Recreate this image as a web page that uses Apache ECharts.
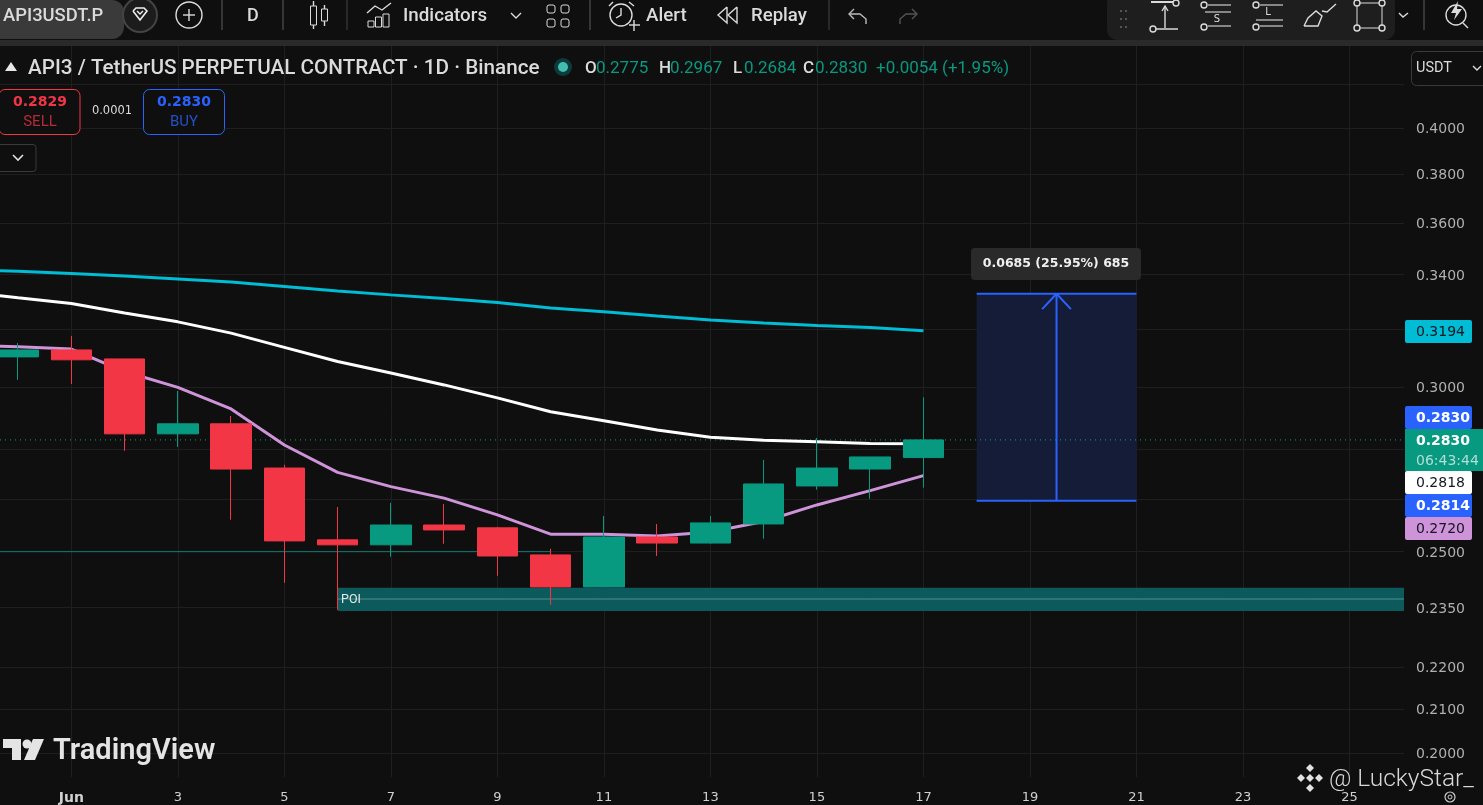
<!DOCTYPE html>
<html><head><meta charset="utf-8">
<style>html,body{margin:0;padding:0;background:#0f0f0f}#c{width:1483px;height:805px}</style>
<script src="https://cdn.jsdelivr.net/npm/echarts@6/dist/echarts.min.js"></script>
</head><body><div id="c"></div>
<script>
// ---------- data ----------
const days   = [0,1,2,3,4,5,6,7,8,9,10,11,12,13,14,15,16,17];
const opens  = [.3103,.3127,.3096,.2849,.2881,.2743,.2533,.2519,.2575,.2567,.2491,.2404,.2541,.2524,.2578,.2689,.2740,.2775];
const closes = [.3127,.3093,.2849,.2881,.2740,.2530,.2519,.2575,.2561,.2488,.2404,.2541,.2524,.2581,.2695,.2743,.2777,.2830];
const lows   = [.3025,.3011,.2796,.2808,.2590,.2415,.2344,.2486,.2522,.2434,.2357,.2404,.2488,.2522,.2536,.2678,.2651,.2684];
const highs  = [.3151,.3176,.3096,.2988,.2906,.2753,.2627,.2639,.2636,.2570,.2508,.2601,.2578,.2601,.2768,.2836,.2777,.2967];
const maDays = [-1,0,1,2,3,4,5,6,7,8,9,10,11,12,13,14,15,16,17];
const maCyan   = [.3417,.3412,.3404,.3394,.3383,.3372,.3355,.3338,.3324,.3311,.3296,.3276,.3262,.3247,.3233,.3222,.3213,.3206,.3194];
const maWhite  = [.3335,.3313,.3292,.3258,.3226,.3186,.3136,.3087,.3048,.3008,.2965,.2920,.2891,.2861,.2838,.2829,.2824,.2819,.2818];
const maPurple = [.3144,.3138,.3130,.3053,.3000,.2929,.2814,.2730,.2687,.2653,.2604,.2549,.2549,.2544,.2555,.2585,.2633,.2675,.2720];
const xTickValues = [1,3,5,7,9,11,13,15,17,19,21,23,25];
const xTickLabels = ['Jun','3','5','7','9','11','13','15','17','19','21','23','25'];
const yGridValues  = [.20,.21,.22,.235,.25,.265,.28,.30,.32,.34,.36,.38,.40,.42];
const yLabelValues = [.20,.21,.22,.235,.25,.30,.34,.36,.38,.40];
const lastPrice = .2830;
const supportPrice = .25, supportEndDay = 10;
const poiStartDay = 6, poiTop = .2402, poiBottom = .2341, poiMid = .2372;
const measureStartDay = 18, measureEndDay = 21, measureMidDay = 19.5, measureLow = .2645, measureHigh = .3328;
const arrowHeadDays = [19.23,19.5,19.77], arrowHeadPrices = [.3272,.3328,.3272];
const priceTags = [
  {t:'0.3194',y:320,h:23,bg:'#00bcd4',fg:'#131722',b:false},
  {t:'0.2830',y:406,h:23,bg:'#2962ff',fg:'#ffffff',b:true},
  {t:'0.2818',y:471,h:23,bg:'#ffffff',fg:'#131722',b:false},
  {t:'0.2814',y:494,h:23,bg:'#2962ff',fg:'#ffffff',b:true},
  {t:'0.2720',y:517,h:23,bg:'#ce93d8',fg:'#131722',b:false}
];
// ---------- palette / scale range ----------
const UP='#089981', DOWN='#f23645', BG='#0f0f0f', GRID='#1f1f1f', FG='#dbdbdb', BLUE='#2962ff';
const X_MIN=-0.34, X_MAX=26.025, Y_MIN=.1947, Y_MAX=.4381;
const UI='Roboto', AX='"DejaVu Sans"';

// ---------- chrome helpers ----------
const G=[]; const Z=50;
const L=(x1,y1,x2,y2,c=FG,w=1.4)=>G.push({type:'line',silent:true,z:Z,shape:{x1,y1,x2,y2},style:{stroke:c,lineWidth:w}});
const P=(pts,c=FG,w=1.4)=>G.push({type:'polyline',silent:true,z:Z,shape:{points:pts},style:{stroke:c,lineWidth:w,fill:null}});
const PG=(pts,f)=>G.push({type:'polygon',silent:true,z:Z,shape:{points:pts},style:{fill:f}});
const R=(x,y,width,height,f,s,r=0,w=1)=>G.push({type:'rect',silent:true,z:Z,shape:{x,y,width,height,r},style:{fill:f||'transparent',stroke:s||null,lineWidth:w}});
const C=(cx,cy,r,f,s,w=1.4)=>G.push({type:'circle',silent:true,z:Z,shape:{cx,cy,r},style:{fill:f||'transparent',stroke:s||null,lineWidth:w}});
const T=(text,x,y,fill,font,align='left')=>G.push({type:'text',silent:true,z:Z+1,x,y:y+(font.includes(UI)?1.5:0),style:{text,fill,font,align,verticalAlign:'middle'}});

// top bar
R(0,40,1483,6,'#2a2a2a');
R(-12,0,136,39,'#3a3a3a',null,12);
T('API3USDT.P',3,15,FG,`500 18.4px ${UI}`);
C(140,15,17,'#1c1c1c','#444',2);
P([[133,11],[136,8],[144,8],[147,11],[140,20],[133,11]],'#eee',1.6); P([[137,11],[140,14],[143,11]],'#eee',1.4);
C(189,15,13,null,FG); L(183,15,195,15); L(189,9,189,21);
L(222,0,222,30,'#444',1.5);
T('D',253,15,FG,`500 18px ${UI}`,'center');
L(283,0,283,30,'#444',1.5);
R(310.5,6,6,19,null,FG); L(313.5,1,313.5,6); L(313.5,25,313.5,29);
R(321.5,9,6,12,null,FG); L(324.5,5,324.5,9); L(324.5,21,324.5,26);
L(347,0,347,30,'#333',1.5);
R(368,21,6,6,null,FG); R(375.5,17,6,10,null,FG); R(383,14,6,13,null,FG);
P([[367,13],[375,6],[382,10],[391,3]],FG);
T('Indicators',403,15,FG,`500 18.8px ${UI}`);
P([[511,13],[516,18],[521,13]],FG);
R(547,5,8,8,null,FG,2); R(561,5,8,8,null,FG,2); R(547,19,8,8,null,FG,2); R(561,19,8,8,null,FG,2);
L(590,0,590,30,'#444',1.5);
C(621,15,11,null,FG); P([[621,8],[621,15],[616,18]],FG);
L(609,6,613,2); L(629,2,634,6); L(629,25,640,25,FG); L(634,20,634,31,FG);
T('Alert',646,15,FG,`500 18.8px ${UI}`);
P([[727,7],[718,15],[727,23],[727,7]],FG); P([[737,7],[728,15],[737,23],[737,7]],FG);
T('Replay',751,15,FG,`500 18.6px ${UI}`);
L(829,0,829,30,'#333',1.5);
P([[854,9],[849,14],[854,19]],'#bbb'); P([[849,14],[860,14],[866,19],[866,24]],'#bbb');
P([[912,9],[917,14],[912,19]],'#555'); P([[917,14],[906,14],[900,19],[900,24]],'#555');
// floating drawing toolbar
R(1107,-8,288,48,'#1e1e1e',null,10);
[[1120,10],[1125,10],[1120,18],[1125,18],[1120,26],[1125,26]].forEach(p=>R(p[0],p[1],2,2,'#555'));
L(1151,2,1178,2,FG,2); C(1176,3,3,'#1e1e1e',FG); L(1165,6,1165,28,FG); P([[1162,11],[1165,6],[1168,11]],FG);
L(1154,29,1178,29,'#aaa',2); C(1153,29,3,'#1e1e1e',FG);
C(1204,5,3,'#1e1e1e',FG); L(1208,5,1231,5,'#aaa',1.5); L(1205,12,1231,12,'#aaa',1.5); T('S',1217,19,FG,`10px ${AX}`,'center'); C(1204,27,3,'#1e1e1e',FG); L(1208,26,1231,26,'#aaa',1.5);
C(1256,5,3,'#1e1e1e',FG); L(1260,5,1283,5,'#aaa',1.5); T('L',1268,12,FG,`10px ${AX}`,'center'); L(1256,20,1283,20,'#aaa',1.5); C(1256,27,3,'#1e1e1e',FG); L(1260,26,1283,26,'#aaa',1.5);
P([[1304,26],[1318,26],[1322,16],[1316,11],[1308,18],[1304,26]],FG); P([[1322,11],[1327,12],[1336,4]],FG);
R(1357,3,25,25,null,FG); [[1357,3],[1382,3],[1357,28],[1382,28]].forEach(p=>C(p[0],p[1],3,'#1e1e1e',FG));
P([[1399,13],[1403,17],[1408,13]],FG);
L(1424,0,1424,30,'#444',1.5);
C(1456,15,10,null,FG); L(1463,23,1468,28); PG([[1458,1],[1451,13],[1456,13],[1454,20],[1462,9],[1457,9]],'#dbdbdb');

// legend row
PG([[5,71],[11,62],[17,71]],'#e8e8e8');
T('API3 / TetherUS PERPETUAL CONTRACT · 1D · Binance',28,67,FG,`500 20.7px ${UI}`);
C(563,67,9,'#0d3b39'); C(563,67,5,'#42bdb0');
const ohlc=[['O',585,'0.2775',596],['H',659,'0.2967',670],['L',733,'0.2684',744],['C',803,'0.2830',815]];
ohlc.forEach(o=>{T(o[0],o[1],67,FG,`500 17px ${UI}`);T(o[2],o[3],67,UP,`400 17px ${UI}`);});
T('+0.0054 (+1.95%)',876,67,UP,`400 17px ${UI}`);
// buy / sell
R(-1,89.5,81,45,BG,DOWN,6);
T('0.2829',40,102,DOWN,`bold 14px ${AX}`,'center'); T('SELL',40,121,'#b52b38',`15px ${UI}`,'center');
T('0.0001',112,111,'#dbdbdb',`11.5px ${AX}`,'center');
R(143.5,89.5,81,45,BG,BLUE,6);
T('0.2830',184,102,BLUE,`bold 14px ${AX}`,'center'); T('BUY',184,121,'#2350c8',`15px ${UI}`,'center');
R(-6,144.5,42,27,BG,'#3a3a3a',3); P([[13,155],[18,160],[23,155]],'#e0e0e0',1.6);
// currency
R(1411.5,51.5,90,34,BG,'#3a3a3a',5);
T('USDT',1416,67,FG,`14.5px ${UI}`); P([[1473,66],[1477,70],[1481,66]],FG);
// measure label
R(971,248,170,32,'#2a2a2a',null,4);
T('0.0685 (25.95%) 685',1056,264,'#f0f0f0',`bold 12.5px ${AX}`,'center');
// price tags
priceTags.forEach(p=>{R(1405,p.y,67,p.h,p.bg,null,2);T(p.t,1416,p.y+p.h/2+.5,p.fg,`${p.b?'bold ':''}14px ${AX}`);});
R(1405,429,78,42,UP);
T('0.2830',1416,441,'#fff',`bold 14px ${AX}`); T('06:43:44',1416,461,'#b5dcd6',`14px ${AX}`);
// POI tag
T('POI',341,598,'#e8e8e8',`12.5px ${UI}`);
// watermark logo
PG([[3,739],[21,739],[21,760],[12,760],[12,748],[3,748]],'#e4e4e4');
C(27,744,4.5,'#e4e4e4');
PG([[33,739],[44,739],[35,760],[24,760]],'#e4e4e4');
T('TradingView',53,750,'#e4e4e4',`600 29px ${UI}`);
// author mark
[[1310,768],[1310,778],[1310,788],[1301,778],[1319,778]].forEach(p=>PG([[p[0]-4,p[1]],[p[0],p[1]-4],[p[0]+4,p[1]],[p[0],p[1]+4]],'#e2e2e2'));
T('@ LuckyStar_',1329,778,'#d8d8d8',`300 24.5px ${UI}`);
C(1450,797,5,null,'#cfcfcf',1.2); C(1450,797,2,null,'#cfcfcf',1);

// ---------- series ----------
const hp=(x1,x2,y)=>[[x1,y],[x2,y]];
const thin=(name,data,color,w,z,type='solid')=>({type:'line',name,data,symbol:'none',silent:true,z,lineStyle:{color,width:w,type},animation:false});
const series=[
 {type:'line',name:'poi',data:[],symbol:'none',z:1,silent:true,animation:false,
  markArea:{silent:true,itemStyle:{color:'#0c5a5b'},data:[[{coord:[poiStartDay,poiTop]},{coord:[X_MAX,poiBottom]}]]}},
 {type:'line',name:'measure',data:[],symbol:'none',z:1,silent:true,animation:false,
  markArea:{silent:true,itemStyle:{color:'#141c38'},data:[[{coord:[measureStartDay,measureHigh]},{coord:[measureEndDay,measureLow]}]]}},
 thin('poi mid',hp(poiStartDay,X_MAX,poiMid),'#4f8f8c',1,1.5),
 thin('support',hp(X_MIN,supportEndDay,supportPrice),'#0d7d76',1,1.5),
 thin('last price',hp(X_MIN,X_MAX,lastPrice),'#0aa08a',1,1.6,[1,4]),
 thin('top',hp(measureStartDay,measureEndDay,measureHigh),BLUE,2,2),
 thin('bottom',hp(measureStartDay,measureEndDay,measureLow),BLUE,2,2),
 thin('arrow',[[measureMidDay,measureLow],[measureMidDay,measureHigh]],BLUE,2,2),
 thin('head',arrowHeadDays.map((d,i)=>[d,arrowHeadPrices[i]]),BLUE,2,2),
 thin('ma cyan',maDays.map((d,i)=>[d,maCyan[i]]),'#00bcd4',3,3),
 thin('ma white',maDays.map((d,i)=>[d,maWhite[i]]),'#ffffff',3,3),
 thin('ma purple',maDays.map((d,i)=>[d,maPurple[i]]),'#ce93d8',3,3),
 {type:'candlestick',name:'API3USDT.P',z:5,animation:false,silent:true,barWidth:41,
  data:days.map((d,i)=>[d,opens[i],closes[i],lows[i],highs[i]]),
  itemStyle:{color:UP,color0:DOWN,borderColor:UP,borderColor0:DOWN,borderWidth:1}}
];

const chart=echarts.init(document.getElementById('c'),null,{width:1483,height:805});
chart.setOption({
 animation:false,backgroundColor:BG,
 grid:{left:0,right:79,top:46,bottom:28,containLabel:false},
 xAxis:{type:'value',min:X_MIN,max:X_MAX,
  axisLine:{show:false},axisTick:{show:false,customValues:xTickValues},
  splitLine:{show:true,lineStyle:{color:GRID,width:1}},
  axisLabel:{customValues:xTickValues,margin:14,color:'#d0d0d0',fontFamily:AX,fontSize:13,
    rich:{m:{fontFamily:AX,fontSize:14,fontWeight:'bold',color:'#d0d0d0'}},
    formatter:v=>{const s=xTickLabels[xTickValues.indexOf(v)];return s==='Jun'?'{m|'+s+'}':s;}}},
 yAxis:{type:'log',logBase:10,position:'right',min:Y_MIN,max:Y_MAX,
  axisLine:{show:false},axisTick:{show:false,customValues:yGridValues},
  splitLine:{show:true,lineStyle:{color:GRID,width:1}},
  axisLabel:{customValues:yLabelValues,margin:12,color:'#b0b0b0',fontFamily:AX,fontSize:14,verticalAlign:'top',lineHeight:3,
    formatter:v=>Number(v).toFixed(4)}},
 series,
 graphic:{elements:G}
});
</script></body></html>
